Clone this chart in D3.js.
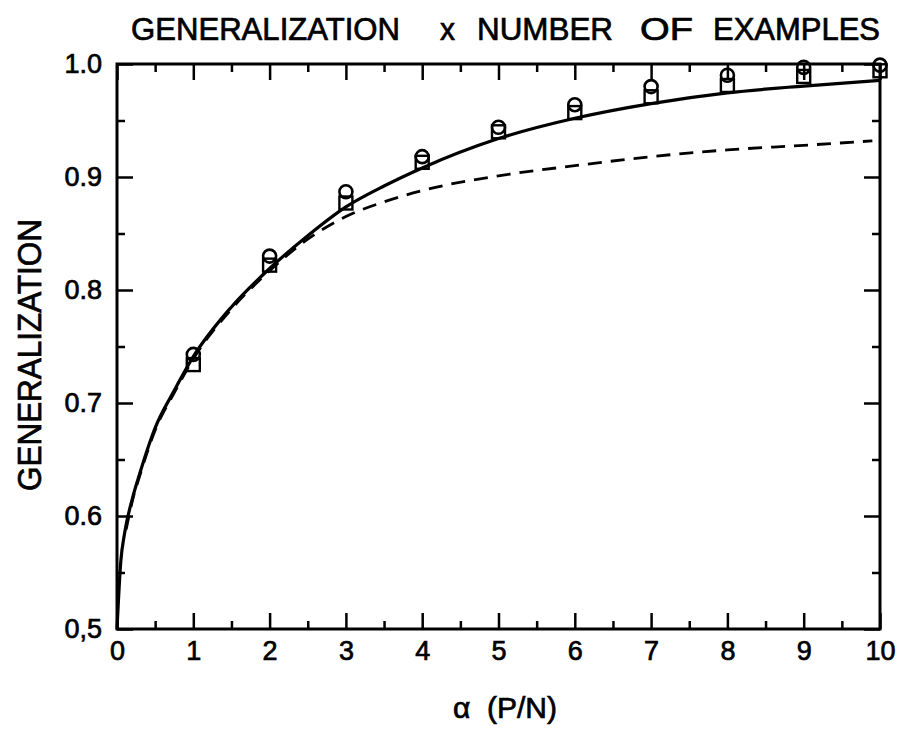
<!DOCTYPE html>
<html>
<head>
<meta charset="utf-8">
<script src="https://cdn.jsdelivr.net/npm/d3@7"></script>
<style>
  body { margin: 0; background: #fff; }
  text { font-family: "Liberation Sans", Arial, sans-serif; fill: #000; stroke: #000; stroke-width: 0.7px; }
</style>
</head>
<body>
<div class="chart"></div>
<script>
var svgWidth = 899;
var svgHeight = 730;

var margin = { top: 64, right: 19, bottom: 101, left: 117 };
var width = svgWidth - margin.left - margin.right;
var height = svgHeight - margin.top - margin.bottom;

// solid curve (theory)
var solidX = [0, 0.05, 0.1, 0.2, 0.3, 0.5, 0.75, 1, 1.5, 2, 2.5, 3, 3.5, 4, 5, 6, 7, 8, 9, 10];
var solidY = [0.5, 0.56, 0.585, 0.615, 0.638, 0.678, 0.711, 0.741, 0.785, 0.819, 0.848, 0.8735, 0.892, 0.908, 0.934, 0.952, 0.965, 0.9745, 0.9805, 0.9855];

// dashed curve
var dashX = [0.12, 0.2, 0.3, 0.5, 0.75, 1, 1.5, 2, 2.5, 3, 3.5, 4, 5, 6, 7, 8, 9, 9.9];
var dashY = [0.588, 0.613, 0.636, 0.676, 0.709, 0.739, 0.783, 0.817, 0.845, 0.865, 0.878, 0.888, 0.901, 0.910, 0.918, 0.924, 0.928, 0.932];

// simulation points
var pointX = [1, 2, 3, 4, 5, 6, 7, 8, 9, 10];
var circleY = [0.743, 0.830, 0.887, 0.918, 0.944, 0.964, 0.980, 0.990, 0.997, 0.999];
var squareY = [0.734, 0.822, 0.877, 0.913, 0.940, 0.957, 0.971, 0.981, 0.989, 0.994];

// ticks
var xTicks = [0, 1, 2, 3, 4, 5, 6, 7, 8, 9, 10];
var xMinor = [0.5, 1.5, 2.5, 3.5, 4.5, 5.5, 6.5, 7.5, 8.5, 9.5];
var yTicks = [0.5, 0.6, 0.7, 0.8, 0.9, 1.0];
var yTickLabels = ["0,5", "0.6", "0.7", "0.8", "0.9", "1.0"];
var yMinor = [0.55, 0.65, 0.75, 0.85, 0.95];

var svg = d3.select(".chart")
  .append("svg")
  .attr("width", svgWidth)
  .attr("height", svgHeight);

var chartGroup = svg.append("g")
  .attr("transform", `translate(${margin.left}, ${margin.top})`);

var xScale = d3.scaleLinear().domain([0, 10]).range([0, width]);
var yScale = d3.scaleLinear().domain([0.5, 1.0]).range([height, 0]);

function styleAxis(g) {
  g.select(".domain").remove();
  g.selectAll("line").attr("stroke", "#000").attr("stroke-width", 2.5);
}

// bottom axis with labels
chartGroup.append("g")
  .attr("transform", `translate(0, ${height})`)
  .call(d3.axisBottom(xScale).tickValues(xTicks).tickSizeInner(-16).tickSizeOuter(0).tickPadding(14))
  .call(styleAxis)
  .selectAll("text")
  .style("font-size", "27px")
  .attr("dy", "0.62em");

chartGroup.append("g")
  .attr("transform", `translate(0, ${height})`)
  .call(d3.axisBottom(xScale).tickValues(xMinor).tickSize(-8).tickFormat(""))
  .call(styleAxis);

// top axis
chartGroup.append("g")
  .call(d3.axisTop(xScale).tickValues(xTicks).tickSize(-16).tickFormat(""))
  .call(styleAxis);
chartGroup.append("g")
  .call(d3.axisTop(xScale).tickValues(xMinor).tickSize(-8).tickFormat(""))
  .call(styleAxis);

// left axis with labels
chartGroup.append("g")
  .call(d3.axisLeft(yScale).tickValues(yTicks).tickSizeInner(-16).tickSizeOuter(0).tickPadding(15)
    .tickFormat((d, i) => yTickLabels[i]))
  .call(styleAxis)
  .selectAll("text")
  .style("font-size", "27px");

chartGroup.append("g")
  .call(d3.axisLeft(yScale).tickValues(yMinor).tickSize(-8).tickFormat(""))
  .call(styleAxis);

// right axis
chartGroup.append("g")
  .attr("transform", `translate(${width}, 0)`)
  .call(d3.axisRight(yScale).tickValues(yTicks).tickSize(-16).tickFormat(""))
  .call(styleAxis);
chartGroup.append("g")
  .attr("transform", `translate(${width}, 0)`)
  .call(d3.axisRight(yScale).tickValues(yMinor).tickSize(-8).tickFormat(""))
  .call(styleAxis);

// frame
chartGroup.append("rect")
  .attr("width", width)
  .attr("height", height)
  .attr("fill", "none")
  .attr("stroke", "#000")
  .attr("stroke-width", 3);

var line = d3.line()
  .x(d => xScale(d[0]))
  .y(d => yScale(d[1]))
  .curve(d3.curveMonotoneX);

chartGroup.append("path")
  .datum(dashX.map((x, i) => [x, dashY[i]]))
  .attr("d", line)
  .attr("fill", "none")
  .attr("stroke", "#000")
  .attr("stroke-width", 2.8)
  .attr("stroke-dasharray", "14,9");

chartGroup.append("path")
  .datum(solidX.map((x, i) => [x, solidY[i]]))
  .attr("d", line)
  .attr("fill", "none")
  .attr("stroke", "#000")
  .attr("stroke-width", 3.2);

// markers
var sq = 13;
chartGroup.selectAll(".sq")
  .data(pointX.map((x, i) => [x, squareY[i]]))
  .enter()
  .append("rect")
  .attr("class", "sq")
  .attr("x", d => xScale(d[0]) - sq / 2)
  .attr("y", d => yScale(d[1]) - sq / 2)
  .attr("width", sq)
  .attr("height", sq)
  .attr("fill", "none")
  .attr("stroke", "#000")
  .attr("stroke-width", 2.4);

chartGroup.selectAll(".ci")
  .data(pointX.map((x, i) => [x, circleY[i]]))
  .enter()
  .append("circle")
  .attr("class", "ci")
  .attr("cx", d => xScale(d[0]))
  .attr("cy", d => yScale(d[1]))
  .attr("r", 6.5)
  .attr("fill", "none")
  .attr("stroke", "#000")
  .attr("stroke-width", 2.6);

// title
var title = svg.append("text")
  .attr("y", 40)
  .style("font-size", "31px");
[["GENERALIZATION", 131, 269], ["x", 440, 15], ["NUMBER", 477, 136], ["OF", 640, 53], ["EXAMPLES", 713, 167]]
  .forEach(function(w) {
    title.append("tspan")
      .attr("x", w[1])
      .attr("textLength", w[2])
      .attr("lengthAdjust", "spacingAndGlyphs")
      .text(w[0]);
  });

// y label
svg.append("text")
  .attr("transform", "translate(41, 355) rotate(-90)")
  .attr("text-anchor", "middle")
  .attr("textLength", 272)
  .attr("lengthAdjust", "spacingAndGlyphs")
  .style("font-size", "33px")
  .text("GENERALIZATION");

// x label
svg.append("text")
  .attr("x", 505)
  .attr("y", 718)
  .attr("text-anchor", "middle")
  .style("font-size", "30px")
  .attr("xml:space", "preserve")
  .text("α  (P/N)");
</script>
</body>
</html>
